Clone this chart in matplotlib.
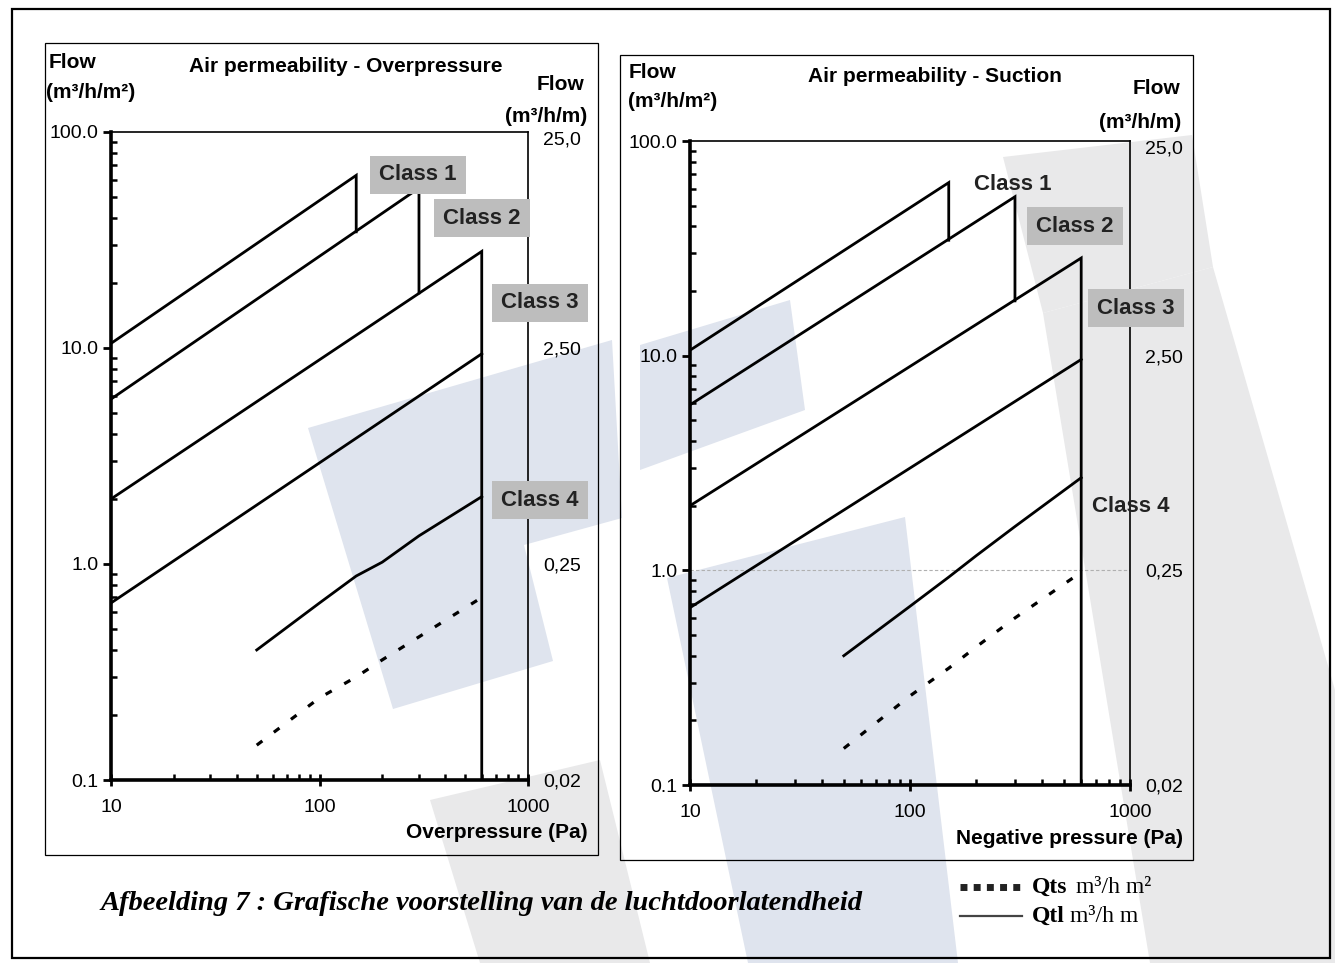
import matplotlib
matplotlib.use('Agg')
import matplotlib.pyplot as plt
from matplotlib.patches import Polygon, Rectangle
from matplotlib.lines import Line2D
import numpy as np

plt.rcParams['font.family'] = ['Liberation Sans', 'DejaVu Sans']

W, H = 1335, 963

# data (flow in m3/h/m2, pressure in Pa)
class_names = ['Class 1', 'Class 2', 'Class 3']
class_x_start = [10, 10, 10]
class_x_end = [150, 300, 600]
over_start = [10.5, 5.8, 2.0]
over_end = [63, 55, 28]
over_drop = [34.5, 18.0, 0.1]
suct_start = [10.6, 5.9, 2.0]
suct_end = [64, 55, 28.5]
suct_drop = [34.5, 18.0, 0.1]

c4_x = [10, 600]
over_c4 = [0.66, 9.4]
suct_c4 = [0.67, 9.6]

q_x = [50, 100, 150, 200, 300, 600]
over_qtl = [0.40, 0.66, 0.88, 1.02, 1.35, 2.05]
over_qts = [0.145, 0.24, 0.30, 0.36, 0.46, 0.70]
suct_qtl = [0.40, 0.68, 0.93, 1.17, 1.60, 2.70]
suct_qts = [0.148, 0.26, 0.35, 0.44, 0.60, 0.98]

y_ticks = [0.1, 1, 10, 100]
y_labels = ['0.1', '1.0', '10.0', '100.0']
x_ticks = [10, 100, 1000]
x_labels = ['10', '100', '1000']
r_ticks = [0.025, 0.25, 2.5, 25]
r_labels = ['0,02', '0,25', '2,50', '25,0']


def px(x, y):
    return x / W, 1 - y / H


fig = plt.figure(figsize=(W / 100, H / 100), dpi=100)

# watermark in the scan
blue = '#dfe4ee'
grey = '#e9e9ea'
wm = [
    ([(308, 428), (612, 340), (622, 518), (524, 545), (553, 661), (393, 709)], blue),
    ([(640, 345), (790, 300), (805, 410), (640, 470)], blue),
    ([(667, 578), (905, 517), (958, 963), (748, 963)], blue),
    ([(1003, 157), (1192, 135), (1213, 267), (1043, 313)], grey),
    ([(1043, 313), (1213, 267), (1335, 690), (1335, 963), (1150, 963)], grey),
    ([(430, 800), (600, 760), (650, 963), (480, 963)], grey),
]
for pts, col in wm:
    fig.add_artist(Polygon([px(*p) for p in pts], closed=True, transform=fig.transFigure,
                           facecolor=col, edgecolor='none', zorder=0.1))

# frames
def frame(x0, y0, x1, y1, lw):
    a, b = px(x0, y1)
    c, d = px(x1, y0)
    fig.add_artist(Rectangle((a, b), c - a, d - b, transform=fig.transFigure,
                             fill=False, edgecolor='black', linewidth=lw, zorder=0.2))

frame(12, 9, 1330, 958, 1.6)
frame(45, 43, 598, 855, 0.9)
frame(620, 55, 1193, 860, 0.9)


def panel(rect, starts, ends, drops, c4, qtl, qts, grid1=False):
    ax = fig.add_axes(rect, zorder=1)
    ax.set_facecolor('none')
    ax.set_xscale('log')
    ax.set_yscale('log')
    ax.set_xlim(10, 1000)
    ax.set_ylim(0.1, 100)

    for i in range(len(class_names)):
        ax.plot([class_x_start[i], class_x_end[i], class_x_end[i]],
                [starts[i], ends[i], drops[i]], color='black', lw=2.0, solid_joinstyle='miter')
    ax.plot(c4_x, c4, color='black', lw=2.0)
    ax.plot(q_x, qtl, color='black', lw=2.0)
    ax.plot(q_x, qts, color='black', lw=2.3, linestyle=(0, (2.2, 4.5)))
    if grid1:
        ax.axhline(1, color='#b0b0b0', lw=0.8, ls=(0, (3, 2)), zorder=0)

    ax.set_xticks(x_ticks)
    ax.set_xticklabels(x_labels)
    ax.set_yticks(y_ticks)
    ax.set_yticklabels(y_labels)
    ax.xaxis.set_minor_locator(matplotlib.ticker.LogLocator(subs=np.arange(2, 10)))
    ax.yaxis.set_minor_locator(matplotlib.ticker.LogLocator(subs=np.arange(2, 10)))
    ax.xaxis.set_minor_formatter(matplotlib.ticker.NullFormatter())
    ax.yaxis.set_minor_formatter(matplotlib.ticker.NullFormatter())
    ax.tick_params(axis='x', which='major', direction='inout', length=9, width=2, pad=9, labelsize=14)
    ax.tick_params(axis='x', which='minor', direction='in', length=4, width=1.8)
    ax.tick_params(axis='y', which='major', direction='out', length=6, width=2, pad=3, labelsize=14)
    ax.tick_params(axis='y', which='minor', direction='in', length=4, width=1.8)
    ax.tick_params(top=False, right=False, which='both')
    for s in ['left', 'bottom']:
        ax.spines[s].set_linewidth(2.6)
    for s in ['top', 'right']:
        ax.spines[s].set_linewidth(1.2)

    ar = ax.twinx()
    ar.set_yscale('log')
    ar.set_ylim(0.025, 25)
    ar.set_yticks(r_ticks)
    ar.set_yticklabels(r_labels)
    ar.yaxis.set_minor_locator(matplotlib.ticker.NullLocator())
    ar.tick_params(axis='y', length=0, pad=11, labelsize=14)
    ar.get_yticklabels()[-1].set_verticalalignment('top')
    for s in ar.spines.values():
        s.set_visible(False)
    return ax


panel([111 / W, 1 - 780 / H, 417 / W, 648 / H], over_start, over_end, over_drop,
      over_c4, over_qtl, over_qts)
panel([690 / W, 1 - 785 / H, 440 / W, 644 / H], suct_start, suct_end, suct_drop,
      suct_c4, suct_qtl, suct_qts, grid1=True)

bold = dict(fontweight='bold', fontsize=15)
# left panel texts
fig.text(*px(49, 62), 'Flow', ha='left', va='center', **bold)
fig.text(*px(46, 92), '(m³/h/m²)', ha='left', va='center', **bold)
fig.text(*px(346, 67), 'Air permeability - Overpressure', ha='center', va='center', **bold)
fig.text(*px(584, 85), 'Flow', ha='right', va='center', **bold)
fig.text(*px(587, 116), '(m³/h/m)', ha='right', va='center', **bold)
fig.text(*px(588, 832), 'Overpressure (Pa)', ha='right', va='center', **bold)
# right panel texts
fig.text(*px(629, 72), 'Flow', ha='left', va='center', **bold)
fig.text(*px(628, 101), '(m³/h/m²)', ha='left', va='center', **bold)
fig.text(*px(935, 77), 'Air permeability - Suction', ha='center', va='center', **bold)
fig.text(*px(1180, 89), 'Flow', ha='right', va='center', **bold)
fig.text(*px(1181, 122), '(m³/h/m)', ha='right', va='center', **bold)
fig.text(*px(1183, 838), 'Negative pressure (Pa)', ha='right', va='center', **bold)

box = dict(boxstyle='square,pad=0.4', facecolor='#bdbdbd', edgecolor='none')
cls = dict(fontweight='bold', fontsize=16, ha='center', va='center', color='#222222', zorder=3)
fig.text(*px(418, 175), 'Class 1', bbox=box, **cls)
fig.text(*px(482, 218), 'Class 2', bbox=box, **cls)
fig.text(*px(540, 303), 'Class 3', bbox=box, **cls)
fig.text(*px(540, 500), 'Class 4', bbox=box, **cls)
fig.text(*px(1013, 184), 'Class 1', **cls)
fig.text(*px(1075, 226), 'Class 2', bbox=box, **cls)
fig.text(*px(1136, 308), 'Class 3', bbox=box, **cls)
fig.text(*px(1131, 507), 'Class 4', **cls)

# caption and key
fig.text(*px(100, 903), 'Afbeelding 7 : Grafische voorstelling van de luchtdoorlatendheid',
         family='Liberation Serif', fontweight='bold', style='italic', fontsize=20.5,
         ha='left', va='center')
fig.add_artist(Line2D([px(960, 0)[0], px(1022, 0)[0]], [px(0, 887)[1]] * 2,
                      transform=fig.transFigure, color='#222222', lw=5, ls=(0, (1.0, 0.9))))
fig.add_artist(Line2D([px(960, 0)[0], px(1022, 0)[0]], [px(0, 916)[1]] * 2,
                      transform=fig.transFigure, color='#444444', lw=1.6))
fig.text(*px(1032, 887), 'Qts', family='Liberation Serif', fontweight='bold', fontsize=17,
         ha='left', va='center')
fig.text(*px(1076, 887), 'm³/h m²', family='Liberation Serif', fontsize=17, ha='left', va='center')
fig.text(*px(1032, 916), 'Qtl', family='Liberation Serif', fontweight='bold', fontsize=17,
         ha='left', va='center')
fig.text(*px(1070, 916), 'm³/h m', family='Liberation Serif', fontsize=17, ha='left', va='center')

fig.savefig('out.png', dpi=100)
